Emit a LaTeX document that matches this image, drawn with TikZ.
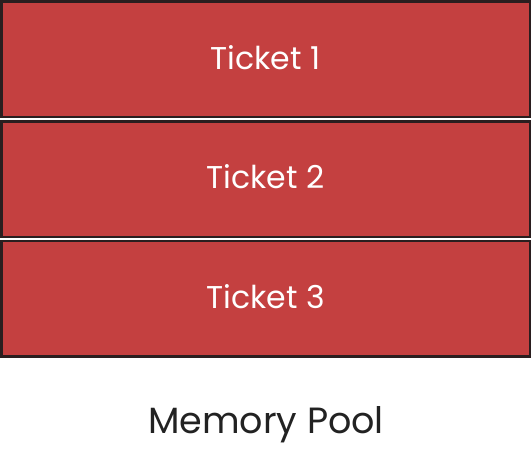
\documentclass[tikz,border=0pt]{standalone}
\usepackage{fontspec}
\setmainfont{Poppins}
\definecolor{ticketred}{HTML}{C44040}
\definecolor{ticketedge}{HTML}{2A1E1F}
\definecolor{labelink}{HTML}{222222}
\begin{document}
\begin{tikzpicture}[x=1pt,y=-1pt,
  ticketbox/.style={draw=ticketedge,fill=ticketred,line width=2.6pt,
    minimum width=528.8pt,minimum height=115.4pt,inner sep=0pt,outer sep=0pt,
    text=white,font=\fontsize{31.5}{38}\selectfont,text height=19.4pt,text depth=0pt},
  caption/.style={text=labelink,font=\fontsize{36.5}{44}\selectfont,inner sep=0pt,anchor=base}]
\useasboundingbox (0,0) rectangle (532,457);
\node[ticketbox] (t1) at (265.6,59.4) {Ticket 1};
\node[ticketbox] (t2) at (265.6,179.2) {Ticket 2};
\node[ticketbox] (t3) at (265.6,298.8) {Ticket 3};
\node[caption] (pool) at (266,433) {Memory Pool};
\end{tikzpicture}
\end{document}
